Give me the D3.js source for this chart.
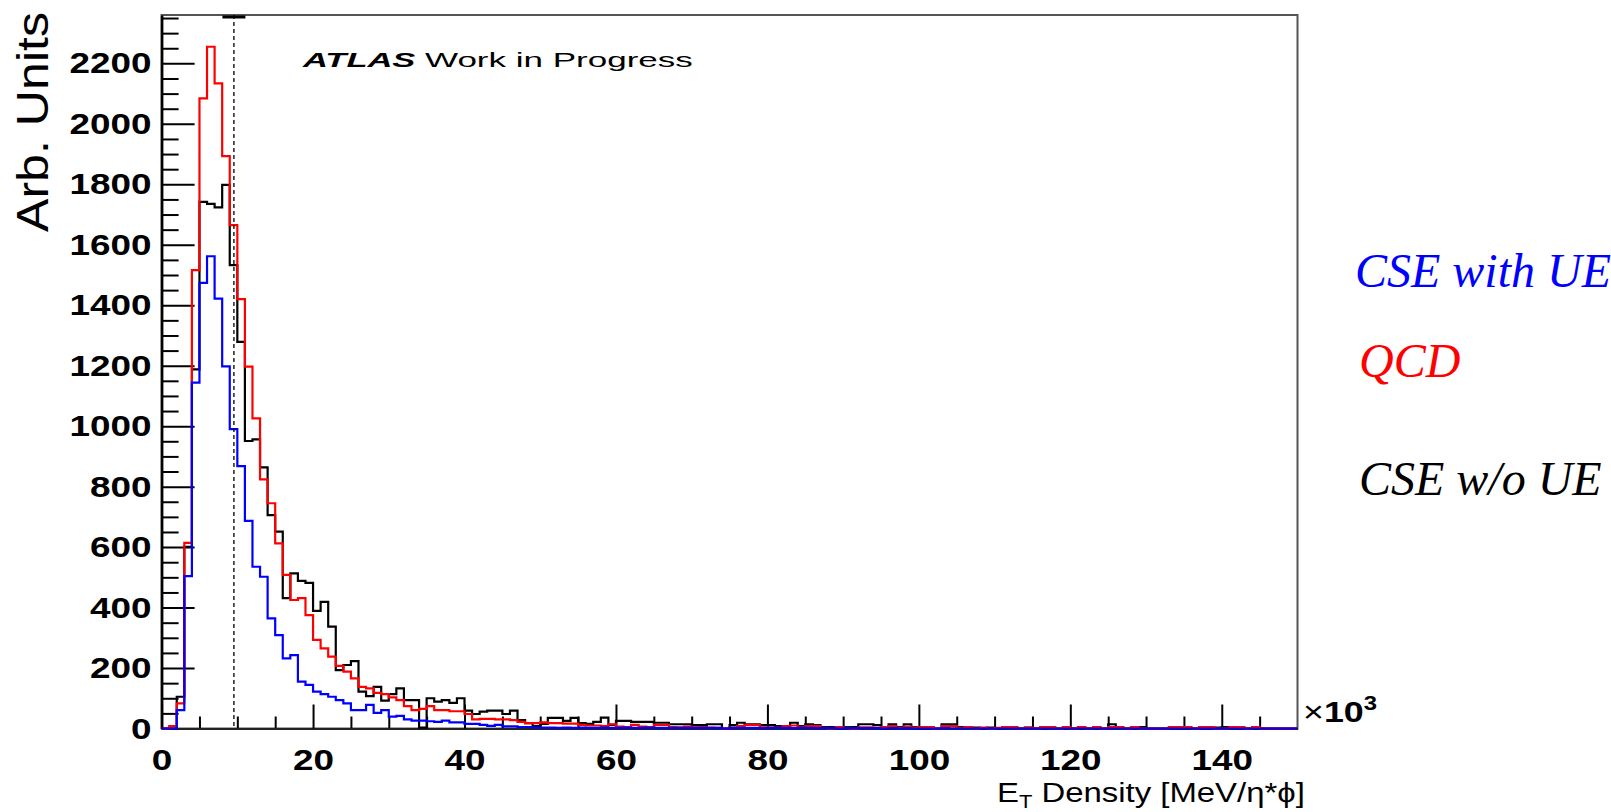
<!DOCTYPE html>
<html>
<head>
<meta charset="utf-8">
<script src="https://cdn.jsdelivr.net/npm/d3@7"></script>
<style>
  body { margin: 0; background: #fff; }
  svg { display: block; }
</style>
</head>
<body>
<svg id="chart" width="1611" height="812"></svg>
<script>
// bin contents, bin i spans [i, i+1] x 10^3 MeV
var qcd = [
  0, 8, 83, 614, 1516, 2084, 2255, 2134, 1893, 1665,
  1420, 1197, 1026, 824, 745, 612, 508, 425, 431, 375,
  293, 265, 238, 207, 188, 166, 138, 133, 118, 114,
  103, 94, 74, 61, 65, 74, 61, 61, 57, 57,
  48, 30, 32, 32, 30, 30, 28, 22, 18, 18,
  20, 18, 18, 16, 16, 12, 10, 10, 8, 14,
  6, 5, 12, 6, 5, 12, 12, 5, 4, 6,
  4, 5, 3, 2, 0, 3, 8, 12, 12, 4,
  3, 3, 8, 10, 4, 8, 8, 2, 0, 5,
  2, 0, 4, 4, 2, 5, 8, 2, 6, 3,
  5, 5, 0, 8, 8, 2, 5, 0, 3, 0,
  2, 5, 5, 0, 3, 0, 5, 5, 0, 5,
  0, 5, 0, 5, 0, 5, 5, 0, 5, 0,
  0, 0, 0, 5, 5, 5, 0, 5, 5, 0,
  0, 5, 5, 0, 5, 0, 0, 0, 0, 0
];

var cseNoUE = [
  0, 0, 105, 601, 1188, 1742, 1735, 1724, 1798, 1533,
  1279, 951, 956, 864, 706, 651, 431, 513, 488, 482,
  389, 419, 337, 193, 210, 223, 122, 107, 138, 92,
  114, 133, 94, 94, 3, 100, 89, 94, 85, 100,
  59, 48, 56, 59, 59, 48, 59, 28, 18, 8,
  15, 35, 35, 25, 35, 18, 15, 22, 36, 12,
  25, 25, 22, 22, 22, 19, 19, 14, 14, 14,
  11, 11, 14, 14, 0, 11, 19, 14, 14, 11,
  11, 8, 8, 19, 8, 14, 11, 5, 5, 0,
  5, 5, 14, 14, 11, 0, 14, 5, 14, 5,
  0, 0, 0, 14, 14, 5, 3, 3, 0, 3,
  0, 3, 3, 0, 3, 0, 0, 3, 0, 0,
  0, 0, 0, 0, 0, 14, 3, 0, 0, 5,
  0, 0, 0, 0, 0, 0, 0, 0, 0, 3,
  5, 0, 0, 0, 0, 0, 0, 0, 0, 0
];

var cseUE = [
  0, 0, 61, 504, 1144, 1474, 1562, 1422, 1198, 990,
  868, 687, 535, 502, 364, 309, 232, 243, 155, 144,
  122, 114, 105, 94, 83, 61, 61, 78, 52, 61,
  39, 42, 30, 26, 26, 24, 22, 26, 20, 20,
  15, 15, 12, 9, 12, 7, 7, 5, 5, 3,
  3, 3, 2, 3, 2, 3, 2, 2, 3, 2,
  2, 3, 2, 2, 3, 2, 2, 2, 2, 2,
  2, 2, 2, 2, 0, 2, 2, 2, 2, 1,
  2, 2, 2, 1, 2, 2, 1, 1, 1, 0,
  1, 1, 1, 1, 1, 0, 1, 0, 1, 0,
  0, 0, 0, 1, 0, 0, 0, 0, 0, 0,
  0, 0, 0, 0, 0, 0, 0, 0, 0, 0,
  0, 0, 0, 0, 0, 0, 0, 0, 0, 0,
  0, 0, 0, 0, 0, 0, 0, 0, 0, 0,
  0, 0, 0, 0, 0, 0, 0, 0, 0, 0
];

var xTickLabels = [0, 20, 40, 60, 80, 100, 120, 140];
var yTickLabels = [0, 200, 400, 600, 800, 1000, 1200, 1400, 1600, 1800, 2000, 2200];
var cutValue = 9.55;

var legendItems = [
  {label: 'CSE with UE', color: '#0000ff'},
  {label: 'QCD', color: '#ff0000'},
  {label: 'CSE w/o UE', color: '#000000'}
];

var svg = d3.select('#chart'),
  padL = 161.6, padR = 1297.5, padT = 15, padB = 728.5,
  x = d3.scaleLinear().domain([0, 150]).range([padL, padR]),
  y = d3.scaleLinear().domain([0, 2360]).range([padB, padT]);

svg.append('rect').attr('width', 1611).attr('height', 812).attr('fill', '#fff');

svg.append('clipPath').attr('id', 'plotclip')
  .append('rect')
  .attr('x', padL).attr('y', padT)
  .attr('width', padR - padL).attr('height', padB - padT + 2);

// frame
svg.append('rect')
  .attr('x', padL).attr('y', padT)
  .attr('width', padR - padL).attr('height', padB - padT)
  .attr('fill', 'none').attr('stroke', '#555').attr('stroke-width', 2);

var labelFont = '"Liberation Sans", Arial, sans-serif';
var fmt = d3.format('d');

// y axis
var yMinor = d3.range(50, 2360, 50).filter(function(v) { return v % 200 !== 0; });
svg.append('g')
  .attr('transform', 'translate(' + padL + ',0)')
  .call(d3.axisLeft(y).tickValues(yMinor).tickSize(-17).tickSizeOuter(0).tickFormat(''))
  .call(function(g) { g.select('.domain').remove(); })
  .selectAll('line').attr('stroke', '#000').attr('stroke-width', 2);

var gY = svg.append('g')
  .attr('transform', 'translate(' + padL + ',0)')
  .call(d3.axisLeft(y).tickValues(yTickLabels).tickFormat(fmt)
    .tickSize(-33).tickSizeOuter(0).tickPadding(10));
gY.select('.domain').attr('stroke', '#000').attr('stroke-width', 2.6);
gY.selectAll('line').attr('stroke', '#000').attr('stroke-width', 2);
gY.selectAll('text')
  .attr('font-family', labelFont).attr('font-weight', 'bold').attr('font-size', 30)
  .attr('fill', '#000')
  .attr('textLength', function(d) { return fmt(d).length * 20.5; })
  .attr('lengthAdjust', 'spacingAndGlyphs');

// x axis
var xMinor = d3.range(5, 150, 5).filter(function(v) { return v % 20 !== 0; });
svg.append('g')
  .attr('transform', 'translate(0,' + padB + ')')
  .call(d3.axisBottom(x).tickValues(xMinor).tickSize(-12).tickSizeOuter(0).tickFormat(''))
  .call(function(g) { g.select('.domain').remove(); })
  .selectAll('line').attr('stroke', '#000').attr('stroke-width', 2);

var gX = svg.append('g')
  .attr('transform', 'translate(0,' + padB + ')')
  .call(d3.axisBottom(x).tickValues(xTickLabels).tickFormat(fmt)
    .tickSize(-24).tickSizeOuter(0).tickPadding(20));
gX.select('.domain').attr('stroke', '#222').attr('stroke-width', 2.2);
gX.selectAll('line').attr('stroke', '#000').attr('stroke-width', 2);
gX.selectAll('text')
  .attr('font-family', labelFont).attr('font-weight', 'bold').attr('font-size', 30)
  .attr('fill', '#000')
  .attr('textLength', function(d) { return fmt(d).length * 20.5; })
  .attr('lengthAdjust', 'spacingAndGlyphs');

// histograms as step outlines, drawn over the axes like ROOT does
var hist = d3.line()
  .x(function(d) { return x(d[0]); })
  .y(function(d) { return y(d[1]); })
  .curve(d3.curveStepAfter);

function steps(values) {
  var pts = values.map(function(v, i) { return [i, v]; });
  pts.push([values.length, values[values.length - 1]]);
  return pts;
}

var series = [
  {values: cseNoUE, color: '#000000'},
  {values: qcd, color: '#ff0000'},
  {values: cseUE, color: '#0000ff'}
];

svg.append('g')
  .attr('clip-path', 'url(#plotclip)')
  .selectAll('path')
  .data(series)
  .enter()
  .append('path')
  .attr('d', function(d) { return hist(steps(d.values)); })
  .attr('fill', 'none')
  .attr('stroke', function(d) { return d.color; })
  .attr('stroke-width', 2.2);

// dashed cut line
svg.append('line')
  .attr('x1', x(cutValue)).attr('x2', x(cutValue))
  .attr('y1', padT).attr('y2', padB)
  .attr('stroke', '#000').attr('stroke-width', 1.3)
  .attr('stroke-dasharray', '4,3');
svg.append('line')
  .attr('x1', x(cutValue) - 11.5).attr('x2', x(cutValue) + 11.5)
  .attr('y1', padT + 2).attr('y2', padT + 2)
  .attr('stroke', '#000').attr('stroke-width', 3);

// stretch a text group horizontally to a measured width
function fit(g, x0, y0, width) {
  var w = g.node().getBBox().width;
  g.attr('transform', 'translate(' + x0 + ',' + y0 + ') scale(' + (width / w) + ',1)');
}

// x10^3 exponent
var expo = svg.append('g');
var expoText = expo.append('text')
  .attr('font-family', labelFont).attr('font-size', 30).attr('fill', '#000');
expoText.append('tspan').text('\u00d7');
expoText.append('tspan').attr('font-weight', 'bold').text('10');
expoText.append('tspan').attr('font-weight', 'bold').attr('font-size', 20)
  .attr('dy', -12).text('3');
fit(expo, 1303, 722, 74);

// axis titles
var xt = svg.append('g');
var xtText = xt.append('text')
  .attr('font-family', labelFont).attr('font-size', 27).attr('fill', '#000');
xtText.append('tspan').text('E');
xtText.append('tspan').attr('font-size', 18).attr('dy', 6).text('T');
xtText.append('tspan').attr('dy', -6).text(' Density [MeV/\u03b7*\u03d5]');
fit(xt, 997, 802, 308);

svg.append('text')
  .attr('transform', 'translate(48,12) rotate(-90)')
  .attr('text-anchor', 'end')
  .attr('font-family', labelFont).attr('font-size', 44).attr('fill', '#000')
  .attr('textLength', 220).attr('lengthAdjust', 'spacingAndGlyphs')
  .text('Arb. Units');

// ATLAS label
var atlas = svg.append('g');
atlas.append('text')
  .attr('font-family', labelFont).attr('font-size', 21)
  .attr('font-weight', 'bold').attr('font-style', 'italic').attr('fill', '#000')
  .text('ATLAS');
fit(atlas, 303, 67, 114);
var wip = svg.append('g');
wip.append('text')
  .attr('font-family', labelFont).attr('font-size', 21).attr('fill', '#000')
  .text('Work in Progress');
fit(wip, 425, 67, 268);

// legend text on the right
var legendY = [287, 377, 495];
svg.append('g')
  .selectAll('text')
  .data(legendItems)
  .enter()
  .append('text')
  .attr('x', function(d, i) { return i === 0 ? 1355 : 1359; })
  .attr('y', function(d, i) { return legendY[i]; })
  .attr('font-family', '"Liberation Serif", "Times New Roman", serif')
  .attr('font-style', 'italic')
  .attr('font-size', 48)
  .attr('fill', function(d) { return d.color; })
  .text(function(d) { return d.label; });
</script>
</body>
</html>
